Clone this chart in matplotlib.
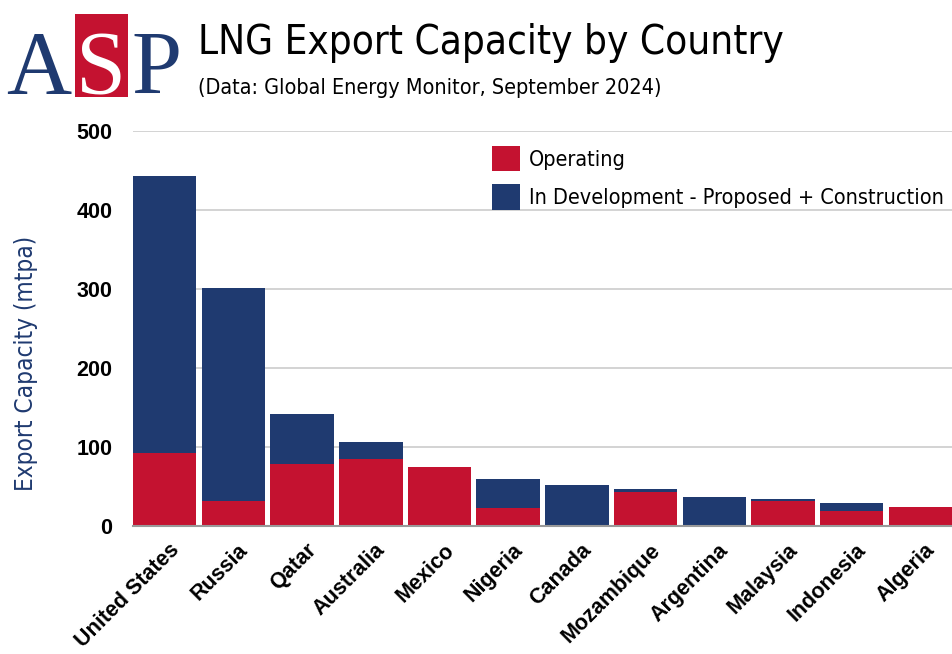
import matplotlib
matplotlib.use("Agg")
import matplotlib.pyplot as plt
from matplotlib.patches import Rectangle
from matplotlib.transforms import ScaledTranslation

# Data (mtpa)
countries = ["United States", "Russia", "Qatar", "Australia", "Mexico", "Nigeria",
             "Canada", "Mozambique", "Argentina", "Malaysia", "Indonesia", "Algeria"]
operating = [92, 32, 78, 84, 74, 22, 0, 43, 0, 31, 19, 24]
in_development = [351, 269, 64, 22, 0, 37, 52, 3, 36, 3, 10, 0]
y_ticks = [0, 100, 200, 300, 400, 500]

RED = "#C41230"
BLUE = "#1F3A70"
NARROW = dict(fontfamily="DejaVu Sans", fontstretch="condensed")

fig = plt.figure(figsize=(9.53, 6.54), dpi=100)
fig.patch.set_facecolor("white")
ax = fig.add_axes([0.1396, 0.196, 0.8594, 0.604])

x = range(len(countries))
w = 0.923
ax.bar(x, operating, width=w, color=RED, edgecolor="none", zorder=3,
       label="Operating")
ax.bar(x, in_development, bottom=operating, width=w, color=BLUE, edgecolor="none",
       zorder=3, label="In Development - Proposed + Construction")

ax.set_xlim(-w / 2, len(countries) - 1 + w / 2)
ax.set_ylim(0, 500)
ax.set_yticks(y_ticks)
ax.yaxis.grid(True, color="#cccccc", linewidth=1.2, zorder=0)
ax.set_axisbelow(True)
for s in ["top", "right", "left"]:
    ax.spines[s].set_visible(False)
ax.spines["bottom"].set_color("#999999")
ax.spines["bottom"].set_linewidth(1.5)
ax.spines["bottom"].set_zorder(4)
ax.tick_params(axis="both", length=0)
ax.tick_params(axis="y", pad=15)

for lab in ax.get_yticklabels():
    lab.set_fontfamily("Liberation Sans")
    lab.set_fontweight("bold")
    lab.set_fontsize(15.5)

ax.set_xticks(list(x))
ax.set_xticklabels(countries, rotation=45, ha="right", rotation_mode="anchor",
                   fontfamily="Liberation Sans", fontweight="bold", fontsize=15.5)
ax.tick_params(axis="x", pad=10)
shift = ScaledTranslation(0.04, 0, fig.dpi_scale_trans)
for lab in ax.get_xticklabels():
    lab.set_transform(lab.get_transform() + shift)

ax.set_ylabel("Export Capacity (mtpa)", color=BLUE, fontsize=17.5, **NARROW)
ax.yaxis.set_label_coords(-0.116, 0.41)

leg = ax.legend(loc="upper left", bbox_to_anchor=(0.42, 1.0), frameon=False,
                prop={"family": "DejaVu Sans", "stretch": "condensed", "size": 15.5},
                handlelength=1.3, handleheight=1.45, handletextpad=0.4,
                labelspacing=0.6, borderaxespad=0.3)

# Title block
fig.text(0.208, 0.935, "LNG Export Capacity by Country", fontsize=29, va="center",
         ha="left", color="black", **NARROW)
fig.text(0.208, 0.866, "(Data: Global Energy Monitor, September 2024)", fontsize=15.5,
         va="center", ha="left", color="black", **NARROW)

# ASP logo
fig.patches.append(Rectangle((0.0787, 0.852), 0.0556, 0.127, transform=fig.transFigure,
                             facecolor=RED, edgecolor="none"))
for letter, xpos, col in [("A", 0.041, BLUE), ("S", 0.1065, "white"), ("P", 0.164, BLUE)]:
    fig.text(xpos, 0.856, letter, fontfamily="Liberation Serif", fontsize=65,
             color=col, ha="center", va="baseline")

fig.savefig("out.png", dpi=100)
